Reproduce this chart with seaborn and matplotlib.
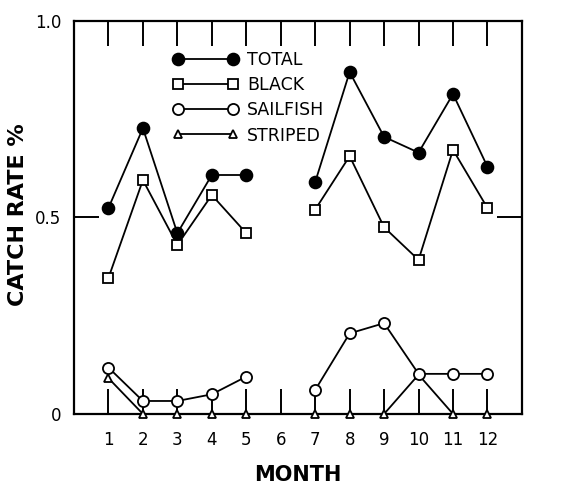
import numpy as np
import pandas as pd
import matplotlib
matplotlib.use("Agg")
import matplotlib.pyplot as plt
import seaborn as sns
from matplotlib.lines import Line2D

months = [1, 2, 3, 4, 5, 6, 7, 8, 9, 10, 11, 12]
total = [0.524, 0.727, 0.46, 0.608, 0.608, np.nan, 0.59, 0.87, 0.705, 0.665, 0.814, 0.629]
black = [0.346, 0.595, 0.43, 0.557, 0.46, np.nan, 0.52, 0.656, 0.475, 0.392, 0.672, 0.524]
sailfish = [0.118, 0.033, 0.033, 0.05, 0.095, np.nan, 0.061, 0.205, 0.231, 0.102, 0.102, 0.102]
striped = [0.091, 0.0, 0.0, 0.0, 0.0, np.nan, 0.0, 0.0, 0.0, 0.1, 0.0, 0.0]
series_names = ["TOTAL", "BLACK", "SAILFISH", "STRIPED"]
x_ticklabels = ["1", "2", "3", "4", "5", "6", "7", "8", "9", "10", "11", "12"]

sns.set_style("ticks")
plt.rcParams["font.family"] = ["DejaVu Sans"]
for k in ["text.color", "axes.labelcolor", "xtick.color", "ytick.color"]:
    plt.rcParams[k] = "black"

fig = plt.figure(figsize=(5.67, 4.87), dpi=100)
ax = fig.add_axes([0.1305, 0.15, 0.79, 0.807])

styles = {
    "TOTAL": dict(marker="o", markersize=8.5, markerfacecolor="black"),
    "BLACK": dict(marker="s", markersize=6.5, markerfacecolor="white"),
    "SAILFISH": dict(marker="o", markersize=8, markerfacecolor="white"),
    "STRIPED": dict(marker="^", markersize=6, markerfacecolor="white"),
}
data = {"TOTAL": total, "BLACK": black, "SAILFISH": sailfish, "STRIPED": striped}

order = ["STRIPED", "SAILFISH", "BLACK", "TOTAL"]
for z, name in enumerate(order):
    df = pd.DataFrame({"month": months, "rate": data[name]})
    df["seg"] = np.where(df["month"] < 6, 0, 1)
    df = df.dropna()
    for seg, sub in df.groupby("seg"):
        sns.lineplot(data=sub, x="month", y="rate", ax=ax, color="black",
                     linewidth=1.3, markeredgecolor="black", markeredgewidth=1.3,
                     zorder=3 + z, clip_on=False, **styles[name])

ax.set_xlim(0, 13)
ax.set_ylim(0, 1.0)
ax.set_xticks(months)
ax.set_xticklabels(x_ticklabels, fontsize=12)
ax.set_yticks([0, 0.5, 1.0])
ax.set_yticklabels(["0", "0.5", "1.0"], fontsize=12)
ax.tick_params(axis="x", direction="in", length=18, width=1.4, top=True, bottom=True, pad=12)
ax.tick_params(axis="y", direction="in", length=18, width=1.4, left=True, right=True, pad=9)
for s in ax.spines.values():
    s.set_visible(True)
    s.set_linewidth(1.6)
    s.set_color("black")

ax.set_xlabel("MONTH", fontsize=15, fontweight="bold", labelpad=12)
ax.set_ylabel("CATCH RATE %", fontsize=16, fontweight="bold")
ax.yaxis.set_label_coords(-0.103, 0.506)

handles = [Line2D([0], [0], color="black", linewidth=1.3, markeredgecolor="black",
                  markeredgewidth=1.3, **styles[n]) for n in series_names]
ax.legend(handles, series_names, loc="upper left", bbox_to_anchor=(0.205, 0.942),
          frameon=False, numpoints=2, handlelength=3.77, handletextpad=0.5,
          labelspacing=0.42, fontsize=12.5, borderaxespad=0)

fig.savefig("out.png", dpi=100)
